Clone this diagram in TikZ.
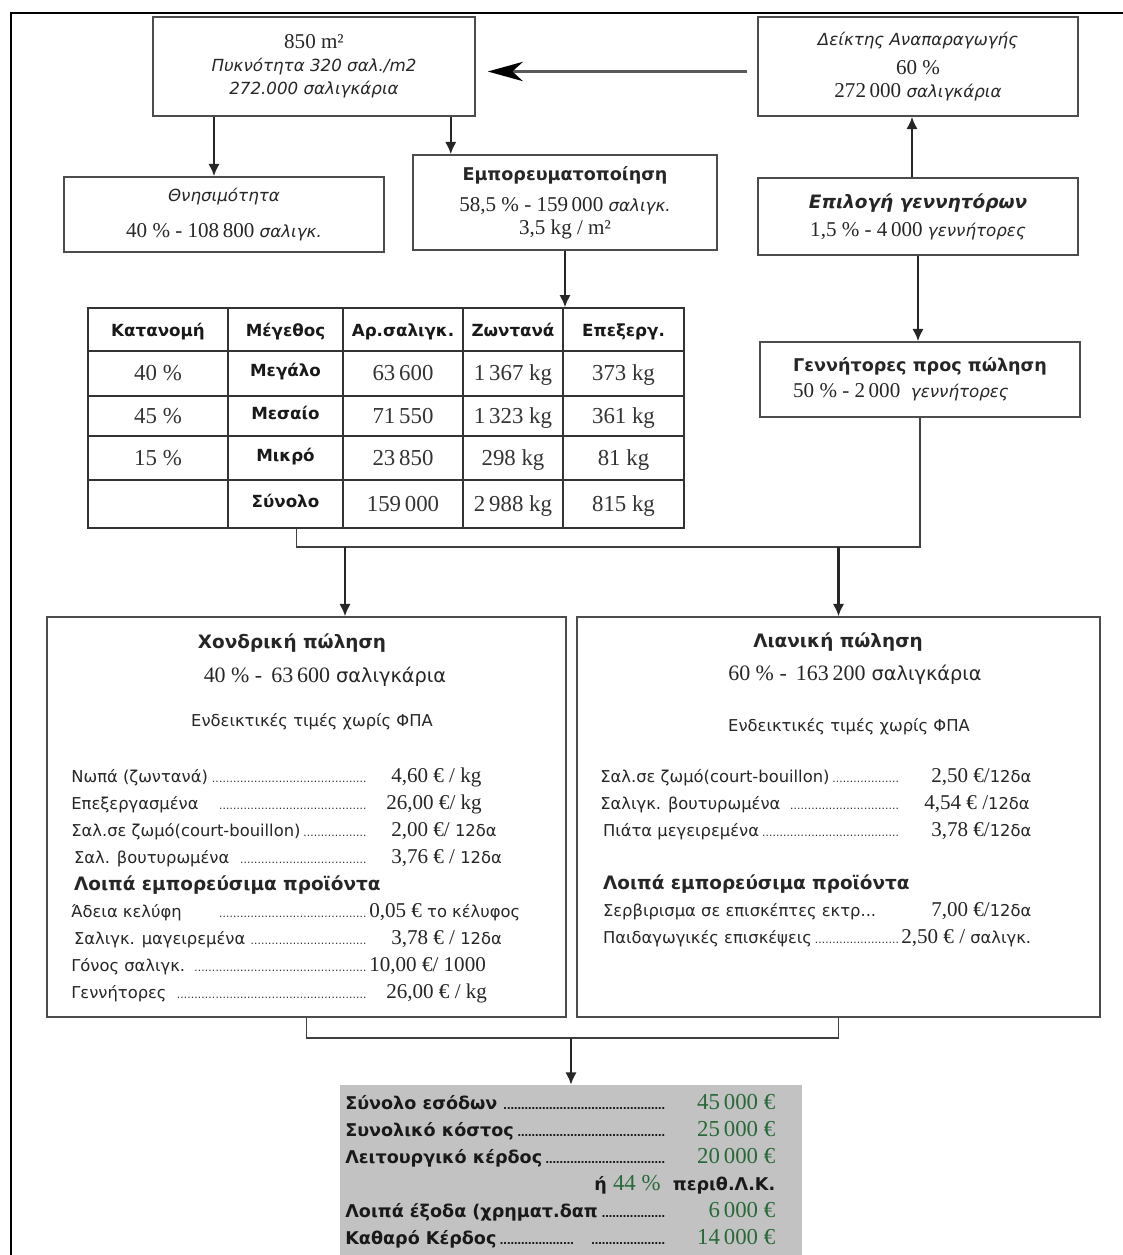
\documentclass[tikz,border=0pt]{standalone}
\usepackage{fontspec}
\setmainfont{Liberation Serif}
\newfontfamily\gr{DejaVu Sans}
\usepackage{xcolor}
\usetikzlibrary{arrows.meta}
\definecolor{moneygreen}{RGB}{40,105,55}
\newcommand{\nm}{\rmfamily\fontsize{12}{13}\selectfont}
\newcommand{\val}{\rmfamily\mdseries\fontsize{13}{14}\selectfont\color{moneygreen}}
\newcommand{\leaddots}{\leaders\hbox to 2pt{\hss\fontsize{6}{6}\selectfont.\hss}\hfill}
\newcommand{\pline}[3]{\makebox[#1][l]{#2\,\leaddots}#3}

\begin{document}
\begin{tikzpicture}
    [x=0.02cm, y=-0.02cm,
 box/.style ={rectangle, draw=black!70, line width=0.9pt, align=center, inner sep=2pt, text=black!85, font=\gr\fontsize{9.5}{13}\selectfont},
 txt/.style ={align=left, inner sep=0pt, text=black!85, font=\gr\fontsize{9.3}{15.3}\selectfont},
 label/.style ={inner sep=0pt, text=black!85, font=\gr\fontsize{9.3}{12}\selectfont},
 head/.style ={anchor=base, inner sep=0pt, text=black!90, font=\gr\bfseries\fontsize{9.5}{11}\selectfont},
 num/.style ={anchor=base, inner sep=0pt, text=black!80, font=\rmfamily\fontsize{13}{15}\selectfont},
 line/.style ={draw=black!85, line width=1.3pt, -{Latex[length=7pt,width=6.5pt]}},
 conn/.style ={draw=black!75, line width=0.8pt},
 grid/.style ={draw=black!80, line width=0.8pt}]
        \useasboundingbox (0,0) rectangle (1123,1255);
        \draw[line width=1.7pt] (1123,13) -- (11,13) -- (11,1255);

        \node[box, minimum width=6.44cm, minimum height=1.98cm] (area) at (314,66.5) {{\nm 850 m²}\\ \textit{Πυκνότητα 320 σαλ./m2}\\ \textit{272.000 σαλιγκάρια}};
        \node[box, minimum width=6.4cm, minimum height=1.98cm] (repro) at (918,66.5) {\textit{Δείκτης Αναπαραγωγής}\\[4pt] {\nm 60 \%}\\ {\nm 272\,000} \textit{σαλιγκάρια}};
        \node[box, minimum width=6.4cm, minimum height=1.5cm] (mort) at (224,214.5) {\textit{Θνησιμότητα}\\[7pt] {\nm 40 \% - 108\,800} \textit{σαλιγκ.}};
        \node[box, minimum width=6.08cm, minimum height=1.9cm] (comm) at (565,202.5) {{\fontsize{10}{13}\selectfont\textbf{Εμπορευματοποίηση}}\\[5pt] {\nm 58,5 \% - 159\,000} \textit{σαλιγκ.}\\ {\nm 3,5 kg / m²}};
        \node[box, minimum width=6.4cm, minimum height=1.54cm] (breed) at (918,216.5) {{\fontsize{10.5}{13}\selectfont\textbf{\textit{Επιλογή γεννητόρων}}}\\[3pt] {\nm 1,5 \% - 4\,000} \textit{γεννήτορες}};
        \node[box, align=left, minimum width=6.4cm, minimum height=1.5cm] (sale) at (920,379.5) {{\fontsize{10}{13}\selectfont\textbf{Γεννήτορες προς πώληση}}\\[2pt] {\nm 50 \% - 2\,000}\ \ \textit{γεννήτορες}};

        \draw[draw=black!65, line width=1.4pt, -{Stealth[length=20pt,width=11pt,inset=6pt,black]}, shorten <=0.2cm, shorten >=0.24cm] ([yshift=-0.1cm]repro.west) -- ([yshift=-0.1cm]area.east);
        \draw[line] ([xshift=-0.2cm]mort.north |- area.south) -- ([xshift=-0.2cm]mort.north);
        \draw[line] ([xshift=-0.5cm]area.south east) -- ([xshift=-0.5cm]area.south east |- comm.north);
        \draw[line] ([xshift=-0.12cm]breed.north) -- ([xshift=-0.12cm]breed.north |- repro.south);
        \draw[line] (breed.south) -- (breed.south |- sale.north);

        \node[draw=black!80, line width=0.8pt, minimum width=11.92cm, minimum height=4.4cm] (tab) at (386,418) {};
        \foreach \xl in {228,343,463,563} \draw[grid] (\xl,308) -- (\xl,528);
        \foreach \yl in {351,396,436,480} \draw[grid] (88,\yl) -- (684,\yl);
        \foreach \col/\xc/\hd in {1/158/Κατανομή, 2/285.5/Μέγεθος, 3/403/Αρ.σαλιγκ., 4/513/Ζωντανά, 5/623.5/Επεξεργ.}
            \node[head] (hd\col) at (\xc,336) {\hd};
        \foreach \row/\yc/\pc/\sz/\nb/\lv/\pr in {1/380.5/{40 \%}/Μεγάλο/{63\,600}/{1\,367 kg}/{373 kg},
                2/423/{45 \%}/Μεσαίο/{71\,550}/{1\,323 kg}/{361 kg},
                3/465/{15 \%}/Μικρό/{23\,850}/{298 kg}/{81 kg},
                4/511/{}/Σύνολο/{159\,000}/{2\,988 kg}/{815 kg}} {
            \node[num] (pc\row) at (158,\yc) {\pc};
            \node[head] (sz\row) at (285.5,\yc-4) {\sz};
            \node[num] (nb\row) at (403,\yc) {\nb};
            \node[num] (lv\row) at (513,\yc) {\lv};
            \node[num] (pr\row) at (623.5,\yc) {\pr};
        }
        \draw[line] (comm.south) -- (comm.south |- tab.north);

        \node[box, minimum width=10.38cm, minimum height=8cm] (whole) at (306.5,817) {};
        \node[box, minimum width=10.46cm, minimum height=8cm] (retail) at (838.5,817) {};

        \coordinate (fork) at (sale.south |- 0,547);
        \draw[conn] ([xshift=4.18cm]tab.south west) |- (fork) -- (sale.south);
        \draw[line] ([xshift=0.77cm]whole.north |- fork) -- ([xshift=0.77cm]whole.north);
        \draw[line] (retail.north |- fork) -- (retail.north);

        \node[label, font=\gr\bfseries\fontsize{10.5}{12}\selectfont] (wtitle) at (292,643) {Χονδρική πώληση};
        \node[label, font=\gr\fontsize{11}{13}\selectfont] (wshare) at (325,677) {{\nm\fontsize{12.5}{14}\selectfont 40 \% -\, 63\,600} σαλιγκάρια};
        \node[label] (wnote) at (312,722) {Ενδεικτικές τιμές χωρίς ΦΠΑ};
        \node[txt, anchor=north west] (wprices) at (71,768) {%
            \pline{5.96cm}{Νωπά (ζωντανά)}{\hspace{0.44cm}{\nm 4,60 € / kg}}\\
            \pline{5.96cm}{Επεξεργασμένα\quad}{\hspace{0.34cm}{\nm 26,00 €/ kg}}\\
            \pline{5.96cm}{Σαλ.σε ζωμό(court-bouillon)}{\hspace{0.44cm}{\nm 2,00 €/} 12δα}\\
            \pline{5.96cm}{\,Σαλ. βουτυρωμένα\ }{\hspace{0.44cm}{\nm 3,76 € /} 12δα}\\
            \,{\fontsize{10.5}{15.3}\selectfont\textbf{Λοιπά εμπορεύσιμα προϊόντα}}\\
            \pline{5.96cm}{Άδεια κελύφη\qquad}{{\nm 0,05 €} το κέλυφος}\\
            \pline{5.96cm}{\,Σαλιγκ. μαγειρεμένα}{\hspace{0.44cm}{\nm 3,78 € /} 12δα}\\
            \pline{5.96cm}{Γόνος σαλιγκ.\ }{{\nm 10,00 €/ 1000}}\\
            \pline{5.96cm}{Γεννήτορες\ }{\hspace{0.34cm}{\nm 26,00 € / kg}}};

        \node[label, font=\gr\bfseries\fontsize{10.5}{12}\selectfont] (rtitle) at (838,642) {Λιανική πώληση};
        \node[label, font=\gr\fontsize{11}{13}\selectfont] (rshare) at (855,675) {{\nm\fontsize{12.5}{14}\selectfont 60 \% -\, 163\,200} σαλιγκάρια};
        \node[label] (rnote) at (849,727) {Ενδεικτικές τιμές χωρίς ΦΠΑ};
        \node[txt, anchor=north west] (rprices) at (600,768) {%
            \pline{6.02cm}{Σαλ.σε ζωμό(court-bouillon)}{\hspace{0.6cm}{\nm 2,50 €/}12δα}\\
            \pline{6.02cm}{Σαλιγκ. βουτυρωμένα\ }{\hspace{0.46cm}{\nm 4,54 € /}12δα}\\
            \pline{6.02cm}{\,Πιάτα μεγειρεμένα}{\hspace{0.6cm}{\nm 3,78 €/}12δα}\\[\baselineskip]
            \,{\fontsize{10.5}{15.3}\selectfont\textbf{Λοιπά εμπορεύσιμα προϊόντα}}\\
            \makebox[6.02cm][l]{\,Σερβιρισμα σε επισκέπτες εκτρ...}\hspace{0.6cm}{\nm 7,00 €/}12δα\\
            \pline{6.02cm}{\,Παιδαγωγικές επισκέψεις}{{\nm 2,50 € /} σαλιγκ.}};

        \node[fill=black!24, minimum width=9.24cm, minimum height=3.4cm] (result) at (571,1170) {};
        \coordinate (merge) at (result.north |- 0,1038);
        \draw[conn] (whole.south) |- (merge) -| (retail.south);
        \draw[line] (merge) -- (result.north);
        \node[txt, anchor=north west, text=black!90, font=\gr\bfseries\fontsize{10}{15.4}\selectfont] (restxt) at (345,1094) {%
            \makebox[6.44cm][l]{Σύνολο εσόδων\,\leaddots}\makebox[2.16cm][r]{\val 45\,000 €}\\
            \makebox[6.44cm][l]{Συνολικό κόστος\,\leaddots}\makebox[2.16cm][r]{\val 25\,000 €}\\
            \makebox[6.44cm][l]{Λειτουργικό κέρδος\,\leaddots}\makebox[2.16cm][r]{\val 20\,000 €}\\
            \makebox[8.6cm][r]{ή {\val 44 \%}\ \ περιθ.Λ.Κ.}\\
            \makebox[6.44cm][l]{Λοιπά έξοδα (χρηματ.δαπ\,\leaddots}\makebox[2.16cm][r]{\val 6\,000 €}\\
            \makebox[6.44cm][l]{Καθαρό Κέρδος\leaddots\ \ \leaddots}\makebox[2.16cm][r]{\val 14\,000 €}};
    \end{tikzpicture}
\end{document}
